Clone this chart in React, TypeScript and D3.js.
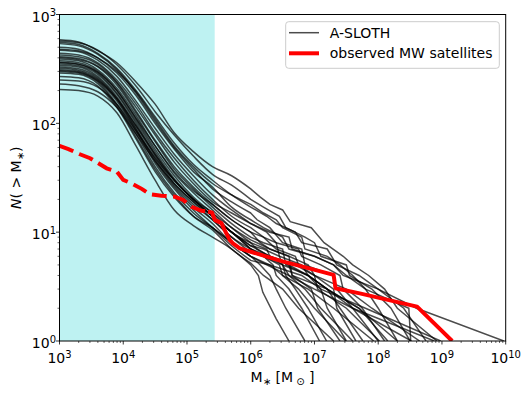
import React from "react";
import * as d3 from "d3";

// ---------- data ----------
// x values are log10(M*/Msun), y values are N(>M*)
const HEAD_LOGM = [3.0, 3.3, 3.6, 3.9, 4.2, 4.5, 4.8, 5.1, 5.4, 5.7, 6.0];

const SLOTH_HEADS: number[][] = [
  [585, 560, 465, 360, 240, 150, 82, 55, 40, 33, 25],
  [570, 550, 470, 345, 220, 128, 78, 50, 34, 27, 20],
  [555, 530, 440, 320, 200, 115, 66, 42, 30, 22, 17],
  [540, 515, 430, 310, 190, 105, 60, 38, 25, 19, 15],
  [500, 480, 400, 290, 180, 100, 58, 36, 26, 17, 13],
  [470, 455, 380, 270, 160, 90, 52, 33, 22, 16, 12],
  [440, 425, 360, 250, 150, 82, 48, 30, 20, 14, 11],
  [425, 410, 350, 240, 140, 78, 44, 28, 19, 15, 12],
  [410, 395, 335, 235, 130, 70, 40, 26, 18, 13, 10],
  [400, 385, 330, 225, 125, 68, 38, 25, 17, 12, 9],
  [390, 375, 310, 210, 118, 62, 35, 23, 16, 11, 8],
  [375, 360, 300, 200, 110, 58, 33, 21, 15, 11, 8.5],
  [365, 350, 290, 190, 105, 55, 31, 20, 14, 10, 7],
  [350, 338, 282, 185, 100, 52, 30, 20, 15, 10, 8],
  [340, 330, 270, 175, 95, 50, 28, 19, 13, 9, 6.5],
  [330, 318, 262, 170, 90, 47, 27, 18, 13, 9, 7],
  [320, 308, 255, 165, 88, 45, 26, 17, 12, 8, 6],
  [305, 295, 245, 160, 85, 43, 25, 16, 11, 7.5, 5.5],
  [300, 290, 240, 150, 80, 40, 23, 15, 11, 8, 6],
  [290, 282, 232, 145, 75, 38, 22, 14, 10.5, 7, 5.2],
  [270, 262, 220, 140, 72, 36, 21, 14, 11, 8, 6],
  [250, 245, 215, 150, 85, 48, 30, 20, 14, 10, 7],
  [230, 222, 195, 140, 80, 45, 28, 19, 14, 10, 7.5],
  [205, 200, 178, 125, 62, 30, 16, 11.5, 9, 7, 5],
  [480, 465, 400, 300, 195, 110, 62, 40, 28, 22, 18],
  [360, 348, 295, 200, 112, 62, 36, 24, 18, 13, 10],
  [310, 300, 250, 168, 95, 52, 30, 20, 14, 10, 7.5],
];

const SLOTH_TAILS: [number, number][][] = [
  [[6.15, 21], [6.3, 18], [6.5, 16], [6.62, 12.5], [6.95, 11], [7.15, 8], [7.45, 6], [7.6, 5], [7.85, 4], [8.1, 3], [8.3, 2], [8.92, 1]],
  [[6.2, 17], [6.45, 14], [6.55, 11], [6.85, 9], [7.0, 8], [7.1, 6], [7.5, 5], [7.55, 4], [7.9, 3], [8.2, 2], [8.5, 1]],
  [[6.25, 14], [6.4, 12], [6.7, 10], [6.8, 8], [7.2, 7], [7.35, 5], [7.7, 4], [8.0, 3], [8.4, 2], [8.75, 1]],
  [[6.1, 13], [6.3, 11], [6.5, 8], [6.8, 7], [6.85, 5], [7.3, 4], [7.35, 3], [7.6, 2], [8.0, 1]],
  [[6.2, 11], [6.5, 9], [6.6, 7], [7.0, 6], [7.3, 5], [7.45, 4], [8.0, 3], [8.6, 2], [9.97, 1]],
  [[6.25, 10], [6.4, 8], [6.75, 7], [6.8, 6], [7.1, 5], [7.4, 4], [7.45, 3], [7.75, 2], [8.1, 1]],
  [[6.2, 9], [6.4, 8], [6.45, 6], [6.8, 5], [6.9, 4], [7.1, 3], [7.2, 2], [7.5, 1]],
  [[6.3, 10], [6.6, 9], [6.65, 7], [7.0, 6], [7.3, 5], [7.5, 4], [7.8, 3], [8.48, 2], [8.51, 1]],
  [[6.15, 8], [6.3, 7], [6.6, 6], [6.65, 4], [6.95, 3], [7.05, 2], [7.4, 1]],
  [[6.2, 8], [6.5, 7], [6.55, 5], [6.9, 4], [7.2, 3], [7.4, 2], [7.76, 1]],
  [[6.1, 7], [6.3, 6], [6.5, 5], [6.55, 4], [6.7, 3], [6.9, 2], [7.19, 1]],
  [[6.3, 7], [6.6, 6], [6.9, 5], [7.0, 4], [7.5, 3], [7.9, 2], [8.65, 1]],
  [[6.2, 6], [6.35, 5], [6.4, 4], [6.6, 3], [6.8, 2], [7.08, 1]],
  [[6.25, 7], [6.3, 6], [6.7, 5], [7.0, 4], [7.05, 3], [7.5, 2], [8.02, 1]],
  [[6.2, 6], [6.45, 5], [6.5, 4], [6.75, 3], [7.0, 2], [7.49, 1]],
  [[6.3, 6], [6.6, 5], [6.65, 4], [7.2, 3], [7.6, 2], [8.88, 1]],
  [[6.15, 5], [6.3, 4], [6.4, 3], [6.55, 2], [6.85, 1]],
  [[6.3, 5], [6.5, 4], [6.9, 3], [7.3, 2], [7.93, 1]],
  [[6.3, 5], [6.8, 4], [7.1, 3], [7.8, 2], [8.98, 1]],
  [[6.2, 4], [6.5, 3], [6.75, 2], [7.3, 1]],
  [[6.25, 5], [6.6, 4], [7.0, 3], [7.6, 2], [8.52, 1]],
  [[6.2, 6], [6.5, 5], [6.6, 4], [6.85, 3], [7.1, 2], [7.6, 1]],
  [[6.3, 6], [6.6, 5], [6.9, 4], [7.2, 3], [7.7, 2], [8.3, 1]],
  [[6.12, 4], [6.19, 2.8], [6.4, 1.6], [6.6, 1]],
  [[6.2, 15], [6.4, 13], [6.5, 11], [6.8, 9], [6.85, 7], [7.2, 6], [7.4, 5], [7.6, 4], [7.8, 3], [8.0, 2], [8.3, 1]],
  [[6.2, 9], [6.4, 7], [6.7, 6], [6.75, 5], [7.0, 4], [7.3, 3], [7.35, 2], [7.65, 1]],
  [[6.2, 7], [6.45, 6], [6.5, 5], [6.9, 4], [7.2, 3], [7.7, 2], [8.15, 1]],
];

// observed MW satellites
const MW_DASHED: [number, number][] = [
  [3.0, 62], [3.14, 58], [3.32, 52], [3.48, 47.8], [3.61, 43], [3.74, 38.6],
  [3.9, 36], [4.0, 30.2], [4.13, 28.1], [4.29, 25], [4.42, 22.3], [4.6, 21.6],
  [4.81, 21.2], [4.94, 19.8], [5.07, 17.1], [5.23, 15.7], [5.33, 15.4],
];
const MW_SOLID: [number, number][] = [
  [5.33, 15.4], [5.39, 15.2], [5.44, 12.9], [5.54, 12.1], [5.59, 10.5],
  [5.67, 8.5], [5.72, 7.9], [5.83, 7.1], [6.04, 6.5], [6.51, 5.36],
  [6.77, 4.9], [7.3, 4.05], [7.33, 3.05], [7.71, 2.74], [8.61, 2.07], [9.16, 1.0],
];

const SHADE_RANGE = [1e3, 2.72e5];
const X_DOMAIN = [1e3, 1e10];
const Y_DOMAIN = [1, 1e3];
const X_TICK_EXP = [3, 4, 5, 6, 7, 8, 9, 10];
const Y_TICK_EXP = [0, 1, 2, 3];
const LEGEND_LABELS = ["A-SLOTH", "observed MW satellites"];

// ---------- layout ----------
const W = 528;
const H = 394;
const L = 59.5, R = 505.7, T = 14.5, B = 341;
const FONT = "DejaVu Sans, sans-serif";

export default function App() {
  const x = d3.scaleLog().domain(X_DOMAIN).range([L, R]);
  const y = d3.scaleLog().domain(Y_DOMAIN).range([B, T]);

  const smooth = d3
    .line<[number, number]>()
    .x((d) => x(Math.pow(10, d[0])))
    .y((d) => y(d[1]))
    .curve(d3.curveMonotoneX);
  const lin = d3
    .line<[number, number]>()
    .x((d) => x(Math.pow(10, d[0])))
    .y((d) => y(d[1]));

  const curves = SLOTH_HEADS.map((head, i) => {
    const hp: [number, number][] = head.map((n, j) => [HEAD_LOGM[j], n]);
    const last = hp[hp.length - 1];
    const tail: [number, number][] = [last, ...SLOTH_TAILS[i]];
    const p1 = smooth(hp) || "";
    const p2 = (lin(tail) || "").replace(/^M/, "L");
    return p1 + p2;
  });

  const minorX: number[] = [];
  for (let e = 3; e < 10; e++) for (let k = 2; k <= 9; k++) minorX.push(k * Math.pow(10, e));
  const minorY: number[] = [];
  for (let e = 0; e < 3; e++) for (let k = 2; k <= 9; k++) minorY.push(k * Math.pow(10, e));

  return (
    <svg width={W} height={H} style={{ position: "absolute", left: 0, top: 0 }} fontFamily={FONT}>
      <defs>
        <clipPath id="plotclip">
          <rect x={L} y={T} width={R - L} height={B - T} />
        </clipPath>
      </defs>
      <rect x={0} y={0} width={W} height={H} fill="#fff" />
      <rect
        x={x(SHADE_RANGE[0])}
        y={T}
        width={x(SHADE_RANGE[1]) - x(SHADE_RANGE[0])}
        height={B - T}
        fill="#bef2f2"
      />
      <g clipPath="url(#plotclip)">
        {curves.map((d, i) => (
          <path key={i} d={d} fill="none" stroke="#000" strokeOpacity={0.7} strokeWidth={1.5} />
        ))}
        <path d={lin(MW_DASHED) || ""} fill="none" stroke="#ff0000" strokeWidth={4} strokeDasharray="14.8 6.4" />
        <path d={lin(MW_SOLID) || ""} fill="none" stroke="#ff0000" strokeWidth={4} strokeLinejoin="round" />
      </g>
      {/* frame */}
      <rect x={L} y={T} width={R - L} height={B - T} fill="none" stroke="#000" strokeWidth={1} />
      {/* x ticks */}
      {X_TICK_EXP.map((e) => {
        const px = x(Math.pow(10, e));
        return (
          <g key={"xt" + e}>
            <line x1={px} x2={px} y1={B} y2={B + 3.5} stroke="#000" strokeWidth={0.8} />
            <text x={px} y={363} fontSize={14} textAnchor="middle" fill="#000">
              10<tspan fontSize={10} dy={-5.5}>{e}</tspan>
            </text>
          </g>
        );
      })}
      {minorX.map((v, i) => (
        <line key={"xm" + i} x1={x(v)} x2={x(v)} y1={B} y2={B + 2} stroke="#000" strokeWidth={0.6} />
      ))}
      {/* y ticks */}
      {Y_TICK_EXP.map((e) => {
        const py = y(Math.pow(10, e));
        return (
          <g key={"yt" + e}>
            <line x1={L - 3.5} x2={L} y1={py} y2={py} stroke="#000" strokeWidth={0.8} />
            <text x={56} y={py + 7} fontSize={14} textAnchor="end" fill="#000">
              10<tspan fontSize={10} dy={-5.5}>{e}</tspan>
            </text>
          </g>
        );
      })}
      {minorY.map((v, i) => (
        <line key={"ym" + i} x1={L - 2} x2={L} y1={y(v)} y2={y(v)} stroke="#000" strokeWidth={0.6} />
      ))}
      {/* axis labels */}
      <text x={(L + R) / 2} y={382} fontSize={14} textAnchor="middle" fill="#000">
        M<tspan fontSize={10} dy={3}>∗</tspan>
        <tspan dy={-3}> [M</tspan>
        <tspan fontSize={10} dy={3}> ⊙</tspan>
        <tspan dy={-3}> ]</tspan>
      </text>
      <text
        transform={`translate(21, ${(T + B) / 2}) rotate(-90)`}
        fontSize={14}
        textAnchor="middle"
        fill="#000"
      >
        <tspan fontStyle="italic">N</tspan>( &gt; M<tspan fontSize={10} dy={3}>∗</tspan>
        <tspan dy={-3}>)</tspan>
      </text>
      {/* legend */}
      <g>
        <rect x={285.7} y={21.7} width={213.6} height={46.6} rx={3} fill="#fff" fillOpacity={0.8} stroke="#cccccc" strokeWidth={1} />
        <line x1={289} x2={319} y1={32.7} y2={32.7} stroke="#000" strokeOpacity={0.7} strokeWidth={1.5} />
        <text x={329.7} y={37.7} fontSize={14} fill="#000">{LEGEND_LABELS[0]}</text>
        <line x1={289} x2={319} y1={53.3} y2={53.3} stroke="#ff0000" strokeWidth={4} />
        <text x={329.7} y={58.3} fontSize={14} fill="#000">{LEGEND_LABELS[1]}</text>
      </g>
    </svg>
  );
}
